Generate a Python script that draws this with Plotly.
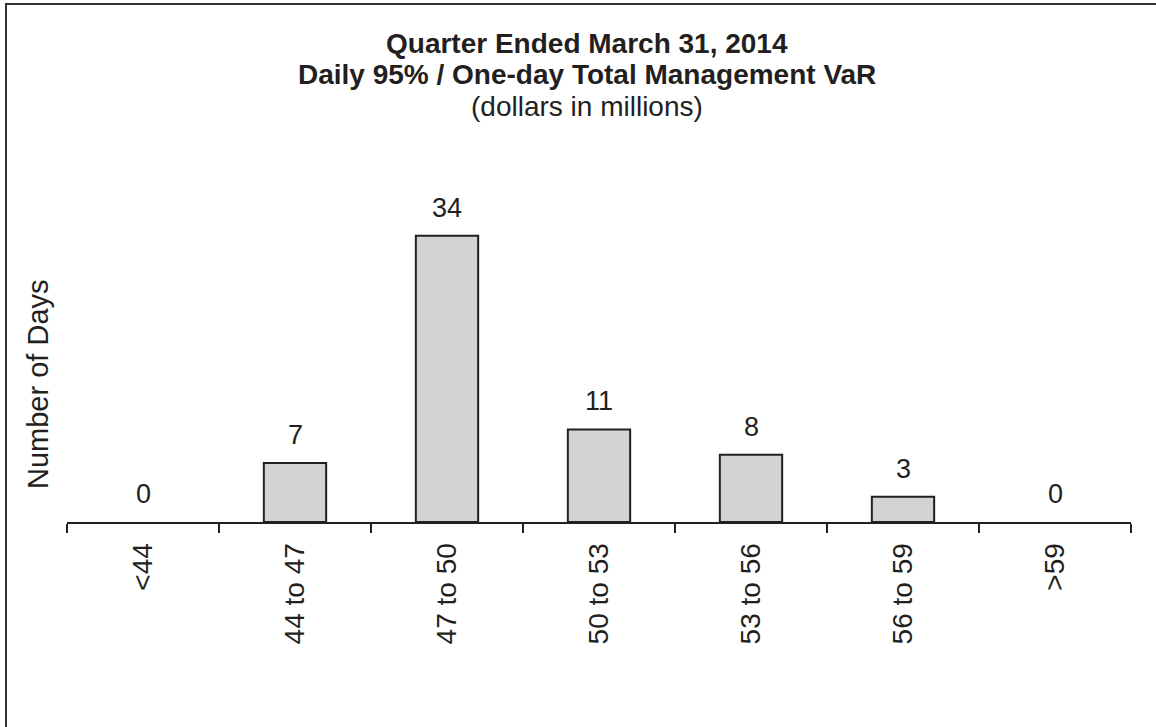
import plotly.graph_objects as go

categories = ["<44", "44 to 47", "47 to 50", "50 to 53", "53 to 56", "56 to 59", ">59"]
days = [0, 7, 34, 11, 8, 3, 0]

title_lines = ["Quarter Ended March 31, 2014", "Daily 95% / One-day Total Management VaR", "(dollars in millions)"]
y_title = "Number of Days"

W, H = 1156, 727
L, R, T, B = 67, 25, 150, 205
PW, PH = W - L - R, H - T - B
YMAX = PH / 8.42

def px_x(px):
    return (px - L) / PW

def px_y(py):
    return (H - B - py) / PH

INK = "#231f20"
FONT = "Liberation Sans, Arial, sans-serif"

fig = go.Figure()
fig.add_trace(go.Bar(
    x=categories, y=days, width=0.41,
    marker=dict(color="#d1d3d4",
                line=dict(color=INK, width=[2 if v > 0 else 0 for v in days])),
    hoverinfo="skip",
))

annotations = []
for c, v in zip(categories, days):
    annotations.append(dict(
        x=c, y=v, xref="x", yref="y", text=str(v), showarrow=False,
        yanchor="bottom", yshift=11, font=dict(family=FONT, size=27, color=INK),
    ))

title_pos = [43, 75, 106]
for i, (t, py) in enumerate(zip(title_lines, title_pos)):
    annotations.append(dict(
        x=px_x(587), y=px_y(py), xref="paper", yref="paper",
        text=("<b>%s</b>" % t) if i < 2 else t, showarrow=False,
        xanchor="center", yanchor="middle",
        font=dict(family=FONT, size=28, color=INK),
    ))

annotations.append(dict(
    x=px_x(38), y=px_y(384), xref="paper", yref="paper", text=y_title,
    showarrow=False, textangle=-90, xanchor="center", yanchor="middle",
    font=dict(family=FONT, size=29, color=INK),
))

fig.update_layout(
    width=W, height=H, autosize=False,
    margin=dict(l=L, r=R, t=T, b=B),
    paper_bgcolor="white", plot_bgcolor="white",
    showlegend=False,
    annotations=annotations,
    shapes=[dict(
        type="rect", xref="paper", yref="paper",
        x0=px_x(6), x1=px_x(1200), y0=px_y(800), y1=px_y(4),
        line=dict(color="#333333", width=2), fillcolor="rgba(0,0,0,0)", layer="above",
    )],
    xaxis=dict(
        type="category", range=[-0.5, 6.5], tickson="boundaries",
        showline=True, linecolor=INK, linewidth=2,
        ticks="outside", ticklen=9, tickwidth=2, tickcolor=INK,
        tickangle=-90, showgrid=False, zeroline=False, ticklabelstandoff=8,
        tickfont=dict(family=FONT, size=28, color=INK),
    ),
    yaxis=dict(range=[0, YMAX], visible=False, showgrid=False, zeroline=False),
)

fig.write_html(
    "out.html",
    config={"displayModeBar": False, "staticPlot": True},
    post_script="document.body.style.margin='0';document.body.style.overflow='hidden';",
)
